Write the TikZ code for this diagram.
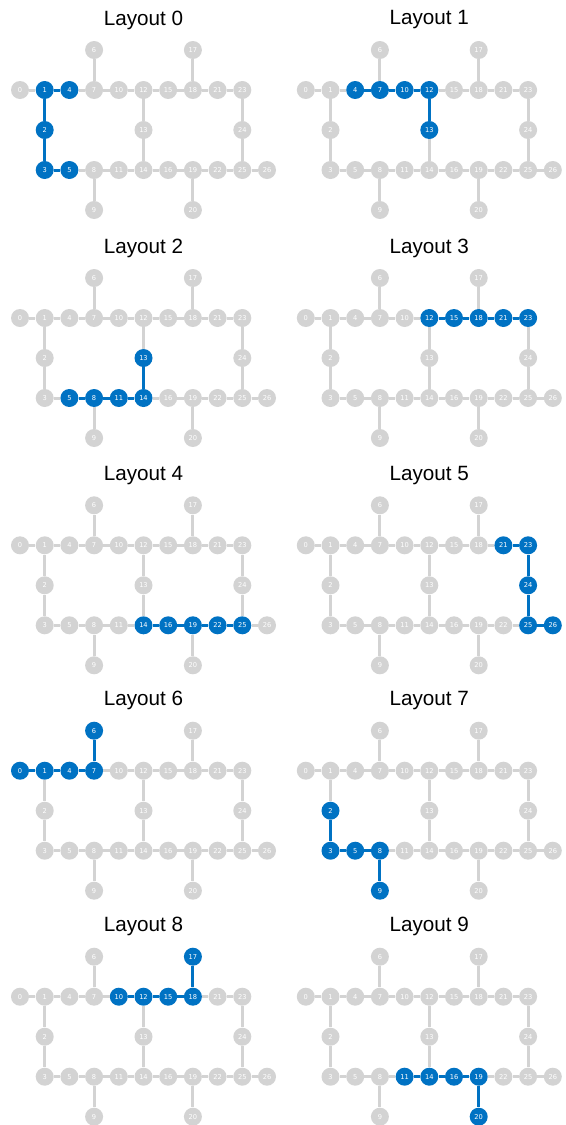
\documentclass[tikz,border=0pt]{standalone}
\usepackage{fontspec}
\setmainfont{Liberation Sans}
\newfontfamily\numfont{DejaVu Sans}
\definecolor{qblue}{RGB}{0,114,195}
\definecolor{qgray}{RGB}{211,211,211}
\makeatletter
\newcommand\bluetest[4]{\edef\bt@tmp{\noexpand\in@{,#1,}{,#2,}}\bt@tmp\ifin@ #3\else #4\fi}
\makeatother
\tikzset{
  qnode/.style={circle, minimum size=13.5pt, inner sep=0pt, text=white, font=\numfont\fontsize{5}{6}\selectfont},
  qedge/.style={line width=2.25pt},
  ltitle/.style={font=\fontsize{15.5}{18}\selectfont, text=black}
}
\begin{document}
\begin{tikzpicture}[x=0.75pt, y=-0.75pt]
\useasboundingbox (0,0) rectangle (566,1125);
\foreach \L/\dx/\dy/\blist in {
  0/0/0/{1,4,2,3,5},
  1/285.8/0/{4,7,10,12,13},
  2/0/228/{5,8,11,14,13},
  3/285.8/228/{12,15,18,21,23},
  4/0/455.3/{14,16,19,22,25},
  5/285.8/455.3/{21,23,24,25,26},
  6/0/680.7/{0,1,4,7,6},
  7/285.8/680.7/{2,3,5,8,9},
  8/0/906.7/{10,12,15,18,17},
  9/285.8/906.7/{11,14,16,19,20}}{
  \node[ltitle] (t\L) at (\dx+143.5, \dy+20) {Layout \L};
  \foreach \i/\c/\r in {0/0/1,1/1/1,4/2/1,7/3/1,10/4/1,12/5/1,15/6/1,18/7/1,21/8/1,23/9/1,
      6/3/0,17/7/0,2/1/2,13/5/2,24/9/2,
      3/1/3,5/2/3,8/3/3,11/4/3,14/5/3,16/6/3,19/7/3,22/8/3,25/9/3,26/10/3,
      9/3/4,20/7/4}{
    \bluetest{\i}{\blist}{\def\ncol{qblue}}{\def\ncol{qgray}}
    \node[qnode, fill=\ncol] (n\L q\i) at (\dx+20+24.7*\c, \dy+50+40*\r) {\i};
  }
  \foreach \a/\b in {0/1,1/4,4/7,7/10,10/12,12/15,15/18,18/21,21/23,7/6,18/17,
      1/2,2/3,12/13,13/14,23/24,24/25,
      3/5,5/8,8/11,11/14,14/16,16/19,19/22,22/25,25/26,8/9,19/20}{
    \bluetest{\a}{\blist}{\bluetest{\b}{\blist}{\def\ecol{qblue}}{\def\ecol{qgray}}}{\def\ecol{qgray}}
    \draw[qedge, draw=\ecol] (n\L q\a) -- (n\L q\b);
  }
}
\end{tikzpicture}
\end{document}
